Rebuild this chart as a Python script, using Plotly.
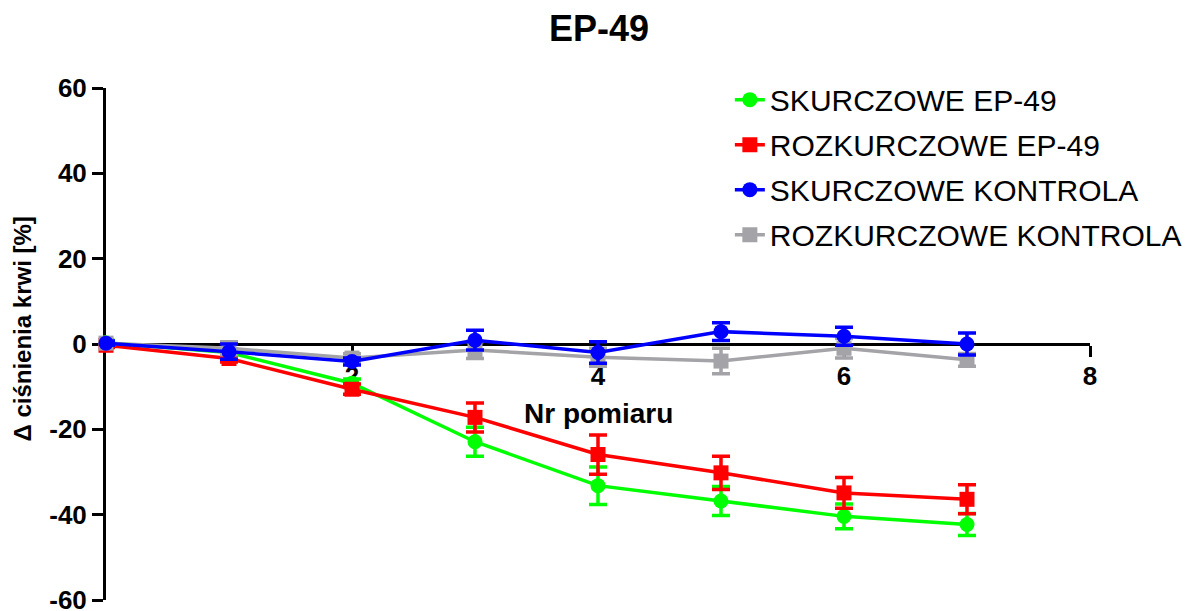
import plotly.graph_objects as go

x_vals = [0, 1, 2, 3, 4, 5, 6, 7]

names = ["SKURCZOWE EP-49", "ROZKURCZOWE EP-49", "SKURCZOWE KONTROLA", "ROZKURCZOWE KONTROLA"]

skurcz_ep = [0.3, -2.0, -9.2, -22.9, -33.2, -36.8, -40.4, -42.3]
skurcz_ep_err = [0.5, 0.8, 1.0, 3.4, 4.4, 3.4, 2.9, 2.6]
rozkurcz_ep = [-0.3, -3.4, -10.6, -17.2, -25.9, -30.2, -34.9, -36.4]
rozkurcz_ep_err = [0.5, 0.8, 1.2, 3.4, 4.6, 3.9, 3.6, 3.4]
skurcz_k = [0.2, -1.8, -4.1, 0.9, -2.0, 2.9, 1.8, 0.0]
skurcz_k_err = [0.5, 1.8, 0.8, 2.3, 2.5, 2.1, 2.1, 2.6]
rozkurcz_k = [0.2, -1.0, -3.3, -1.4, -3.1, -4.0, -1.0, -3.7]
rozkurcz_k_err = [0.5, 1.5, 1.0, 2.0, 2.1, 3.0, 2.3, 1.5]

x_ticks = [2, 4, 6, 8]
x_tick_labels = ["2", "4", "6", "8"]
y_ticks = [-60, -40, -20, 0, 20, 40, 60]
y_tick_labels = ["-60", "-40", "-20", "0", "20", "40", "60"]

FONT = "Arial, 'Liberation Sans', sans-serif"

series = [
    # (name, y, err, color, symbol, legendrank)
    (names[0], skurcz_ep, skurcz_ep_err, "#00FF00", "circle", 1),
    (names[1], rozkurcz_ep, rozkurcz_ep_err, "#FF0000", "square", 2),
    (names[3], rozkurcz_k, rozkurcz_k_err, "#A3A3A8", "square", 4),
    (names[2], skurcz_k, skurcz_k_err, "#0000FF", "circle", 3),
]

fig = go.Figure()
for name, y, err, color, sym, rank in series:
    fig.add_trace(go.Scatter(
        x=x_vals, y=y, name=name, mode="lines+markers",
        line=dict(color=color, width=3.5),
        marker=dict(color=color, symbol=sym, size=15, line=dict(width=0)),
        error_y=dict(type="data", array=err, visible=True, color=color,
                     thickness=3.5, width=9),
        cliponaxis=False, legendrank=rank, legendgroup=name,
    ))

# page has an 8px body margin: figure is offset by 8px; extra width/height
# (outside the window) leaves room for legend and bottom label
fig.update_layout(
    width=1210, height=625,
    margin=dict(l=98, r=128, t=80, b=33),
    paper_bgcolor="white", plot_bgcolor="white",
    font=dict(family=FONT, color="black"),
    title=dict(text="EP-49", x=591 / 1210, xanchor="center", y=1 - 20 / 625, yanchor="middle",
               font=dict(size=36, weight="bold", family=FONT)),
    showlegend=True,
    legend=dict(x=0.634, xanchor="left", y=1.028, yanchor="top",
                font=dict(size=30, family=FONT), tracegroupgap=3,
                bgcolor="rgba(0,0,0,0)"),
    xaxis=dict(range=[0, 8], anchor="free", position=0.5,
               tickvals=x_ticks, ticktext=x_tick_labels,
               ticks="outside", ticklen=11, tickwidth=3, tickcolor="black",
               showline=True, linewidth=3, linecolor="black",
               showgrid=False, zeroline=False, layer="below traces",
               tickfont=dict(size=26, weight="bold", family=FONT),
               ticklabelstandoff=-3, ticklabeloverflow="allow",
               automargin=False),
    yaxis=dict(range=[-60, 60], tickvals=y_ticks, ticktext=y_tick_labels,
               ticks="outside", ticklen=11, tickwidth=3, tickcolor="black",
               showline=True, linewidth=3, linecolor="black",
               showgrid=False, zeroline=False, layer="below traces",
               tickfont=dict(size=26, weight="bold", family=FONT),
               ticklabeloverflow="allow",
               automargin=False),
    annotations=[
        dict(text="Δ ciśnienia krwi [%]", xref="paper", yref="paper",
             x=-0.085, y=0.529, xanchor="center", yanchor="middle",
             textangle=-90, showarrow=False,
             font=dict(size=24, weight="bold", family=FONT)),
        dict(text="Nr pomiaru", xref="paper", yref="paper",
             x=0.5, y=0.3633, xanchor="center", yanchor="middle",
             showarrow=False,
             font=dict(size=28, weight="bold", family=FONT)),
    ],
)

fig.write_html("out.html")
